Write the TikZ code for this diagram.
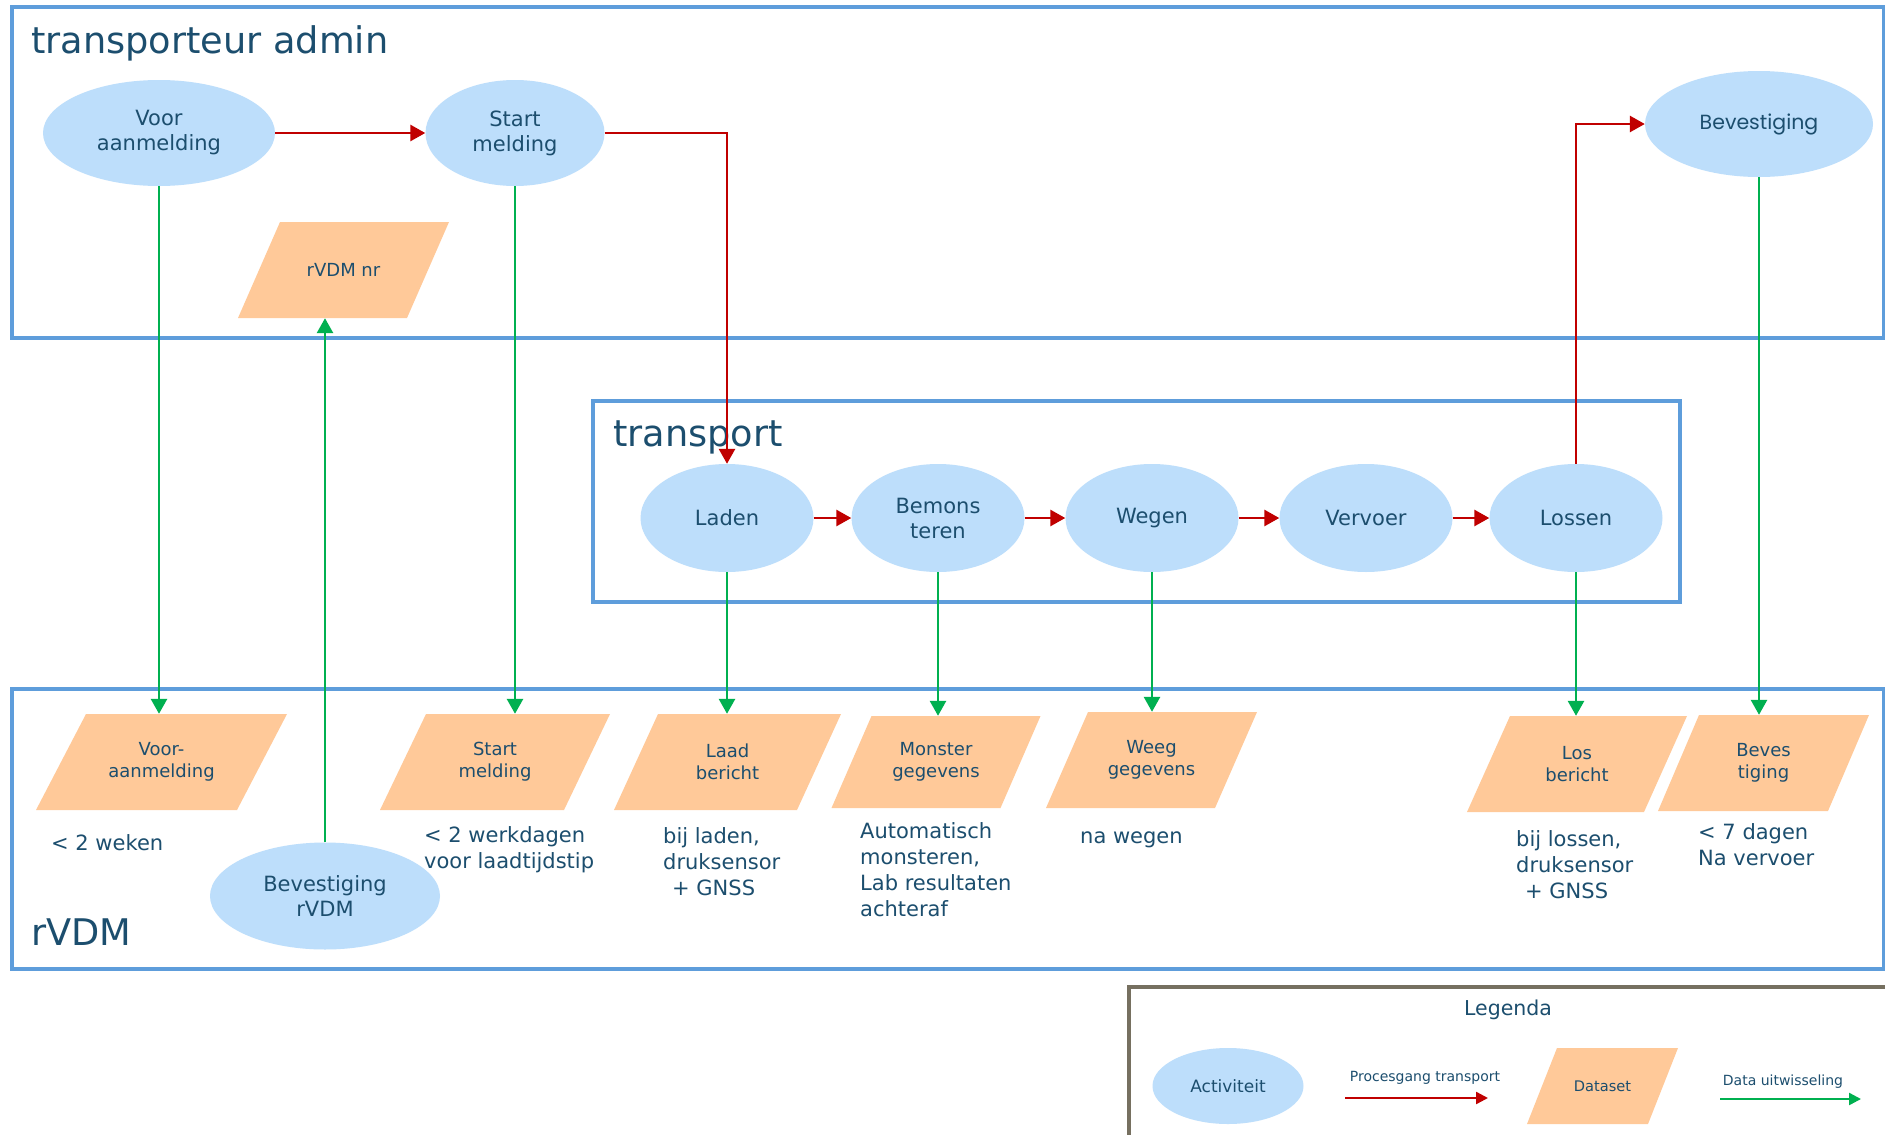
\documentclass[tikz,border=0pt]{standalone}
\usepackage{fontspec}
\setmainfont{DejaVu Sans}
\newfontfamily\popfont{Poppins}
\usetikzlibrary{shapes.geometric,arrows.meta}
\definecolor{boxblue}{HTML}{5E9DDB}
\definecolor{txt}{HTML}{1C4E6E}
\definecolor{actfill}{HTML}{BDDEFB}
\definecolor{datafill}{HTML}{FFC999}
\definecolor{procred}{HTML}{C00000}
\definecolor{datagreen}{HTML}{00B050}
\definecolor{legbrown}{HTML}{767060}
\tikzset{
  actnode/.style={ellipse, fill=actfill, inner sep=0pt, text=txt, align=center, font=\fontsize{21}{25}\selectfont},
  datanode/.style={inner sep=0pt, text=txt, align=center, font=\fontsize{18}{22}\selectfont},
  annot/.style={inner sep=0pt, text=txt, align=left, anchor=west, font=\fontsize{21}{26}\selectfont},
  boxframe/.style={draw=boxblue, line width=3.5pt},
  titletext/.style={inner sep=0pt, text=txt, anchor=base west, font=\fontsize{36.7}{42}\selectfont},
  procarrow/.style={draw=procred, line width=2.8pt, -{Triangle[length=15pt,width=16pt]}},
  dataarrow/.style={draw=datagreen, line width=2.8pt, -{Triangle[length=15pt,width=16pt]}},
}
% name, cx, cy, w, h, slant, text
\newcommand\datashape[7]{%
  \fill[datafill] ({#2-#4/2+#6/2},{#3-#5/2}) -- ({#2+#4/2+#6/2},{#3-#5/2})
     -- ({#2+#4/2-#6/2},{#3+#5/2}) -- ({#2-#4/2-#6/2},{#3+#5/2}) -- cycle;
  \node[datanode, minimum width=#4, minimum height=#5] (#1) at (#2,#3) {#7};
}
\begin{document}
\begin{tikzpicture}[x=1pt,y=-1pt]
\useasboundingbox (0,0) rectangle (1885,1135);
\clip (0,0) rectangle (1885,1135);
\fill[white] (0,0) rectangle (1885,1135);

% frames
\draw[boxframe] (12,7) rectangle (1884,338);
\draw[boxframe] (12,689) rectangle (1884,969);
\draw[boxframe] (593,401) rectangle (1680,602);

\node[titletext] (t1) at (31,53) {transporteur admin};
\node[titletext] (t2) at (613,446) {transport};
\node[titletext] (t3) at (31,945) {rVDM};

% activities
\node[actnode, minimum width=232, minimum height=106] (va) at (159,133) {Voor\\aanmelding};
\node[actnode, minimum width=179, minimum height=106] (sm) at (515,133) {Start\\melding};
\node[actnode, minimum width=228, minimum height=106, font=\popfont\fontsize{20.5}{25}\selectfont] (bev) at (1759,124) {Bevestiging};

\node[actnode, minimum width=173, minimum height=108] (laden) at (727,518) {Laden};
\node[actnode, minimum width=173, minimum height=108] (bem) at (938,518) {Bemons\\teren};
\node[actnode, minimum width=173, minimum height=108] (weg) at (1152,518) {Wegen};
\node[actnode, minimum width=173, minimum height=108] (verv) at (1366,518) {Vervoer};
\node[actnode, minimum width=173, minimum height=108] (los) at (1576,518) {Lossen};

\node[actnode, minimum width=230, minimum height=107] (bvr) at (325,896) {Bevestiging\\rVDM};

% datasets
\datashape{rnr}{343.5}{270}{169}{96}{42}{rVDM nr}
\datashape{vad}{161.5}{762}{201}{96}{50}{Voor-\\aanmelding}
\datashape{smd}{495}{762}{184}{96}{46}{Start\\melding}
\datashape{lbd}{727.5}{762}{183}{96}{44}{Laad\\bericht}
\datashape{mgd}{936}{762}{169}{92}{40}{Monster\\gegevens}
\datashape{wgd}{1151.5}{760}{169}{96}{42}{Weeg\\gegevens}
\datashape{lsd}{1577}{764}{177}{96}{43}{Los\\bericht}
\datashape{bvd}{1763.5}{763}{170}{96}{41}{Beves\\tiging}

% annotations
\node[annot] (a1) at (51,843) {< 2 weken};
\node[annot] (a2) at (424,850) {< 2 werkdagen\\voor laadtijdstip};
\node[annot] (a3) at (663,862) {bij laden,\\druksensor\\\hspace*{9pt}+ GNSS};
\node[annot] (a4) at (860,870) {Automatisch\\monsteren,\\Lab resultaten\\achteraf};
\node[annot] (a5) at (1080,840) {na wegen};
\node[annot] (a6) at (1516,865) {bij lossen,\\druksensor\\\hspace*{9pt}+ GNSS};
\node[annot] (a7) at (1698,845) {< 7 dagen\\Na vervoer};

% process flow
\draw[procarrow] (va) -- (sm);
\draw[procarrow] (sm.east) -| (laden.north);
\draw[procarrow] (laden) -- (bem);
\draw[procarrow] (bem) -- (weg);
\draw[procarrow] (weg) -- (verv);
\draw[procarrow] (verv) -- (los);
\draw[procarrow] (los.north) |- (bev.west);

% data exchange
\draw[dataarrow] (va.south) -- (va.south |- vad.north);
\draw[dataarrow] (sm.south) -- (sm.south |- smd.north);
\draw[dataarrow] (bvr.north) -- (bvr.north |- rnr.south);
\draw[dataarrow] (laden.south) -- (laden.south |- lbd.north);
\draw[dataarrow] (bem.south) -- (bem.south |- mgd.north);
\draw[dataarrow] (weg.south) -- (weg.south |- wgd.north);
\draw[dataarrow] (los.south) -- (los.south |- lsd.north);
\draw[dataarrow] (bev.south) -- (bev.south |- bvd.north);

% legend
\draw[draw=legbrown, line width=3.5pt] (1129,987) rectangle (1900,1160);
\node[text=txt, font=\fontsize{20.5}{24}\selectfont] (legt) at (1508,1010) {Legenda};
\node[actnode, minimum width=151, minimum height=76, font=\fontsize{17}{20}\selectfont] (lact) at (1228,1086) {Activiteit};
\coordinate (lr1) at (1345,1098);
\coordinate (lr2) at (1488,1098);
\draw[procarrow, line width=2.4pt, -{Triangle[length=12pt,width=12pt]}] (lr1) -- (lr2);
\node[text=txt, font=\fontsize{14}{17}\selectfont] (lrl) at (1425,1078) {Procesgang transport};
\datashape{ldat}{1602.5}{1086}{121}{76}{30}{\fontsize{14.6}{17}\selectfont Dataset}
\coordinate (lg1) at (1720,1099);
\coordinate (lg2) at (1861,1099);
\draw[dataarrow, line width=2.4pt, -{Triangle[length=12pt,width=12pt]}] (lg1) -- (lg2);
\node[text=txt, font=\fontsize{14}{17}\selectfont] (lgl) at (1783,1082) {Data uitwisseling};
\end{tikzpicture}
\end{document}
